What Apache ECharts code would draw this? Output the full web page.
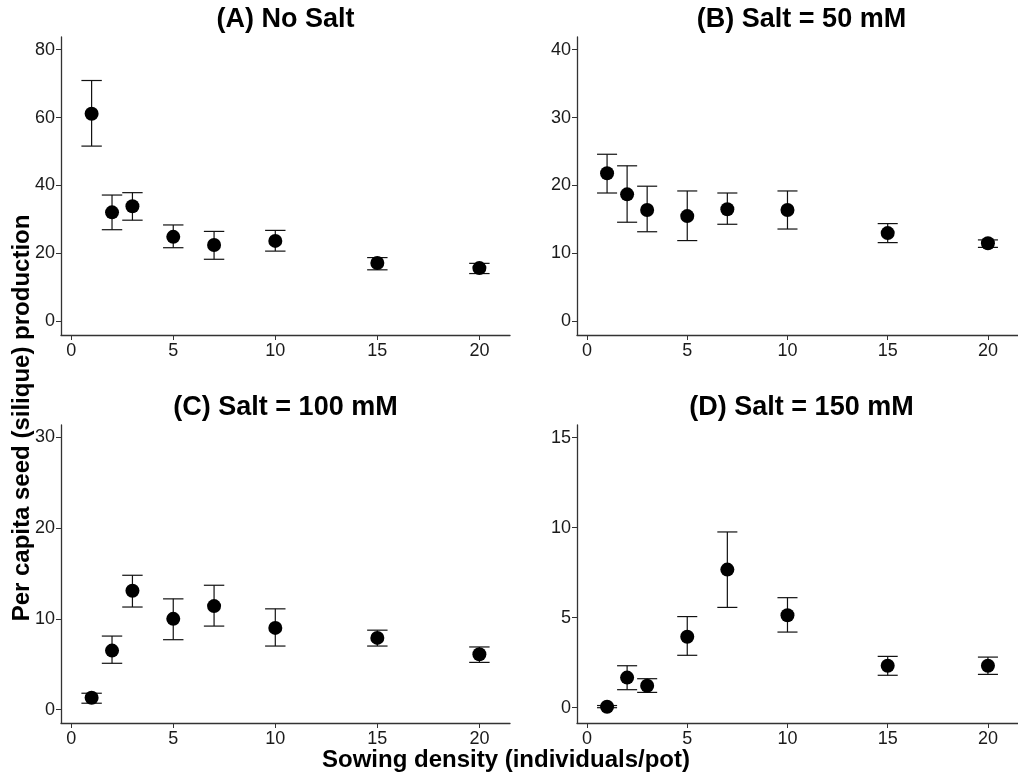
<!DOCTYPE html>
<html>
<head>
<meta charset="utf-8">
<script src="https://cdn.jsdelivr.net/npm/echarts@6/dist/echarts.min.js"></script>
<style>
  html, body { margin: 0; padding: 0; background: #fff; }
  #chart { width: 1018px; height: 774px; }
</style>
</head>
<body>
<div id="chart"></div>
<script>
// sowing density (x) shared by all panels
const density = [1, 2, 3, 5, 7, 10, 15, 20];
const xTicks = [0, 5, 10, 15, 20];

// (A) No Salt
const meanA = [61.1, 32.1, 33.9, 24.9, 22.5, 23.7, 17.2, 15.7];
const lowA  = [51.6, 27.0, 29.8, 21.7, 18.3, 20.7, 15.2, 14.1];
const highA = [70.9, 37.2, 37.9, 28.4, 26.5, 26.8, 18.8, 17.1];

// (B) Salt = 50 mM
const meanB = [21.8, 18.7, 16.4, 15.5, 16.5, 16.4, 13.0, 11.5];
const lowB  = [18.9, 14.6, 13.2, 11.9, 14.3, 13.6, 11.6, 10.9];
const highB = [24.6, 22.9, 19.9, 19.2, 18.9, 19.2, 14.4, 12.0];

// (C) Salt = 100 mM
const meanC = [1.3, 6.5, 13.1, 10.0, 11.4, 9.0, 7.9, 6.1];
const lowC  = [0.7, 5.1, 11.3, 7.7, 9.2, 7.0, 7.0, 5.2];
const highC = [1.8, 8.1, 14.8, 12.2, 13.7, 11.1, 8.75, 6.9];

// (D) Salt = 150 mM
const meanD = [0.05, 1.67, 1.22, 3.94, 7.67, 5.13, 2.33, 2.33];
const lowD  = [0.0, 1.0, 0.85, 2.91, 5.57, 4.2, 1.8, 1.85];
const highD = [0.12, 2.33, 1.61, 5.06, 9.76, 6.11, 2.85, 2.81];

const titles = ['(A) No Salt', '(B) Salt = 50 mM', '(C) Salt = 100 mM', '(D) Salt = 150 mM'];
const yTicks = [[0, 20, 40, 60, 80], [0, 10, 20, 30, 40], [0, 10, 20, 30], [0, 5, 10, 15]];
const yRange = [[-3.98, 83.7], [-1.99, 41.85], [-1.48, 31.36], [-0.85, 15.7]];
const means = [meanA, meanB, meanC, meanD];
const lows = [lowA, lowB, lowC, lowD];
const highs = [highA, highB, highC, highD];

const FONT = '"Liberation Sans", Arial, sans-serif';
const AXIS_COLOR = '#333';

const grids = [
  { left: 61, top: 37, width: 449, height: 298 },
  { left: 577, top: 37, width: 450, height: 298 },
  { left: 61, top: 425, width: 449, height: 298 },
  { left: 577, top: 425, width: 450, height: 298 }
];

const xAxes = grids.map((g, i) => ({
  type: 'value', gridIndex: i, min: -0.5, max: 21.5,
  splitLine: { show: false },
  axisLine: { show: true, onZero: false, lineStyle: { color: AXIS_COLOR, width: 1.3 } },
  axisTick: { show: true, length: 5, customValues: xTicks, lineStyle: { color: AXIS_COLOR } },
  axisLabel: { customValues: xTicks, color: '#1a1a1a', fontSize: 18, fontFamily: FONT, margin: 7 }
}));

const yAxes = grids.map((g, i) => ({
  type: 'value', gridIndex: i, min: yRange[i][0], max: yRange[i][1],
  splitLine: { show: false },
  axisLine: { show: true, onZero: false, lineStyle: { color: AXIS_COLOR, width: 1.3 } },
  axisTick: { show: true, length: 5, customValues: yTicks[i], lineStyle: { color: AXIS_COLOR } },
  axisLabel: { customValues: yTicks[i], color: '#1a1a1a', fontSize: 18, fontFamily: FONT, margin: 6 }
}));

const series = [];
for (let i = 0; i < 4; i++) {
  // error bars (mean +/- se), caps 1 unit wide
  series.push({
    type: 'custom', xAxisIndex: i, yAxisIndex: i, z: 2,
    data: density.map((x, k) => [x, lows[i][k], highs[i][k]]),
    encode: { x: 0, y: [1, 2] },
    renderItem: function (params, api) {
      const x = api.value(0), lo = api.value(1), hi = api.value(2);
      const top = api.coord([x, hi]);
      const bot = api.coord([x, lo]);
      const l = api.coord([x - 0.5, hi]);
      const r = api.coord([x + 0.5, hi]);
      const st = { stroke: '#111', lineWidth: 1.2 };
      return {
        type: 'group',
        children: [
          { type: 'line', shape: { x1: top[0], y1: top[1], x2: bot[0], y2: bot[1] }, style: st },
          { type: 'line', shape: { x1: l[0], y1: top[1], x2: r[0], y2: top[1] }, style: st },
          { type: 'line', shape: { x1: l[0], y1: bot[1], x2: r[0], y2: bot[1] }, style: st }
        ]
      };
    }
  });
  series.push({
    type: 'scatter', xAxisIndex: i, yAxisIndex: i, z: 3,
    symbol: 'circle', symbolSize: 14,
    itemStyle: { color: '#000', opacity: 1 },
    data: density.map((x, k) => [x, means[i][k]])
  });
}

const graphic = titles.map((t, i) => ({
  type: 'text',
  x: grids[i].left + 224.5, y: i < 2 ? 20 : 408,
  style: {
    text: t, fontSize: 27, fontWeight: 'bold', fontFamily: FONT, fill: '#000',
    textAlign: 'center', textVerticalAlign: 'middle'
  }
}));
graphic.push({
  type: 'text', x: 22, y: 418, rotation: Math.PI / 2,
  style: {
    text: 'Per capita seed (silique) production', fontSize: 24, fontWeight: 'bold',
    fontFamily: FONT, fill: '#000', textAlign: 'center', textVerticalAlign: 'middle'
  }
});
graphic.push({
  type: 'text', x: 506, y: 760,
  style: {
    text: 'Sowing density (individuals/pot)', fontSize: 24, fontWeight: 'bold',
    fontFamily: FONT, fill: '#000', textAlign: 'center', textVerticalAlign: 'middle'
  }
});

const chart = echarts.init(document.getElementById('chart'), null, { renderer: 'canvas' });
chart.setOption({
  backgroundColor: '#fff',
  animation: false,
  grid: grids,
  xAxis: xAxes,
  yAxis: yAxes,
  series: series,
  graphic: graphic
});
</script>
</body>
</html>
